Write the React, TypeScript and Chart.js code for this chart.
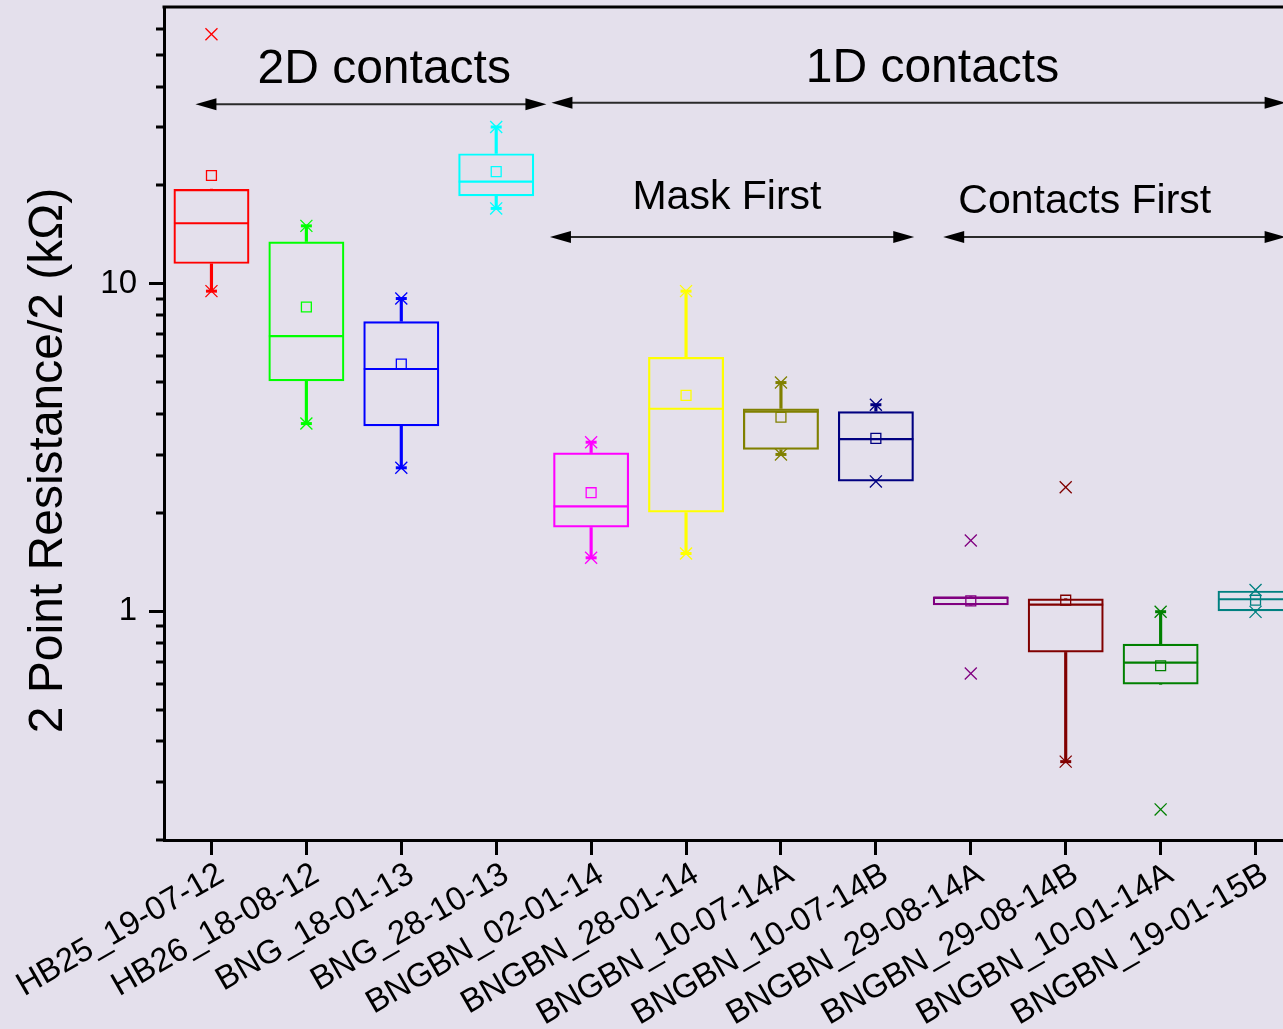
import React, { useEffect, useRef } from 'react';
import { Chart, registerables } from 'chart.js';

Chart.register(...registerables);

// ---------- data ----------
const categories = [
  'HB25_19-07-12',
  'HB26_18-08-12',
  'BNG_18-01-13',
  'BNG_28-10-13',
  'BNGBN_02-01-14',
  'BNGBN_28-01-14',
  'BNGBN_10-07-14A',
  'BNGBN_10-07-14B',
  'BNGBN_29-08-14A',
  'BNGBN_29-08-14B',
  'BNGBN_10-01-14A',
  'BNGBN_19-01-15B',
];

const q1 = [11.5, 5.04, 3.67, 18.5, 1.8, 2.0, 3.11, 2.49, 1.042, 0.748, 0.597, 1.0];
const median = [15.3, 6.92, 5.49, 20.5, 2.09, 4.15, 4.07, 3.35, 1.1, 1.047, 0.696, 1.087];
const q3 = [19.45, 13.46, 7.68, 25.0, 3.05, 5.97, 4.16, 4.08, 1.107, 1.092, 0.795, 1.155];
const mean = [21.4, 8.49, 5.68, 22.0, 2.3, 4.56, 3.91, 3.37, 1.075, 1.08, 0.681, 1.08];
const whiskerLow = [9.49, 3.74, 2.74, 16.98, 1.455, 1.5, 3.01, 2.49, 1.042, 0.347, 0.597, 1.0];
const whiskerHigh = [19.45, 15.02, 9.01, 30.1, 3.28, 9.49, 4.99, 4.27, 1.107, 1.092, 0.996, 1.155];
const markHigh = [57.8, 15.02, 9.01, 30.1, 3.28, 9.49, 4.99, 4.27, 1.643, 2.39, 0.996, 1.16];
const markLow = [9.49, 3.74, 2.74, 16.98, 1.455, 1.5, 3.01, 2.49, 0.645, 0.347, 0.248, 0.995];

const boxColors = [
  '#FF0000', '#00FF00', '#0000FF', '#00FFFF', '#FF00FF', '#FFFF00',
  '#808000', '#000080', '#800080', '#800000', '#008000', '#008080',
];

const yMin = 0.2;
const yMax = 70;
const yMajorTicks = [1, 10];
const yMinorTicks = [0.2, 0.3, 0.4, 0.5, 0.6, 0.7, 0.8, 0.9, 2, 3, 4, 5, 6, 7, 8, 9, 20, 30, 40, 50, 60];

const yTitle = '2 Point Resistance/2 (k\u03A9)';

// group annotations (x in category units, y in data units)
const groupLabels = ['2D contacts', '1D contacts', 'Mask First', 'Contacts First'];
const groupLabelX = [1.82, 7.596, 5.431, 9.201];
const groupLabelY = [41, 41.3, 16.9, 16.4];
const groupLabelSize = [48, 48, 41, 41];
const arrowFrom = [-0.169, 3.582, 3.566, 7.709];
const arrowTo = [3.529, 11.317, 7.404, 11.317];
const arrowY = [35.3, 35.7, 13.9, 13.9];

// ---------- styles ----------
const BG = '#E4E0EC';
const FONT = "'Liberation Sans', Arial, sans-serif";

const annotationPlugin = {
  id: 'boxAnnotations',
  beforeDraw(chart: any) {
    const { ctx, width, height } = chart;
    ctx.save();
    ctx.fillStyle = BG;
    ctx.fillRect(0, 0, width, height);
    ctx.restore();
  },
  afterDraw(chart: any) {
    const { ctx, chartArea } = chart;
    const xs = chart.scales.x;
    const ys = chart.scales.y;
    ctx.save();
    // frame top + right
    ctx.strokeStyle = '#000';
    ctx.lineWidth = 3;
    ctx.beginPath();
    ctx.moveTo(chartArea.left - 1.5, chartArea.top);
    ctx.lineTo(chartArea.right, chartArea.top);
    ctx.lineTo(chartArea.right, chartArea.bottom);
    ctx.stroke();
    // minor ticks
    ctx.lineWidth = 3;
    for (const v of yMinorTicks) {
      const y = Math.round(ys.getPixelForValue(v));
      ctx.beginPath();
      ctx.moveTo(chartArea.left - 8, y);
      ctx.lineTo(chartArea.left, y);
      ctx.stroke();
    }
    // arrows
    const headLen = 21;
    const headHalf = 6;
    for (let i = 0; i < arrowFrom.length; i++) {
      const x1 = xs.getPixelForValue(arrowFrom[i]);
      const x2 = xs.getPixelForValue(arrowTo[i]);
      const y = ys.getPixelForValue(arrowY[i]);
      ctx.strokeStyle = '#2a2a2a';
      ctx.lineWidth = 2;
      ctx.beginPath();
      ctx.moveTo(x1 + headLen - 2, y);
      ctx.lineTo(x2 - headLen + 2, y);
      ctx.stroke();
      ctx.fillStyle = '#000';
      ctx.beginPath();
      ctx.moveTo(x1, y);
      ctx.lineTo(x1 + headLen, y - headHalf);
      ctx.lineTo(x1 + headLen, y + headHalf);
      ctx.closePath();
      ctx.fill();
      ctx.beginPath();
      ctx.moveTo(x2, y);
      ctx.lineTo(x2 - headLen, y - headHalf);
      ctx.lineTo(x2 - headLen, y + headHalf);
      ctx.closePath();
      ctx.fill();
    }
    // group labels
    ctx.fillStyle = '#000';
    ctx.textAlign = 'center';
    ctx.textBaseline = 'alphabetic';
    for (let i = 0; i < groupLabels.length; i++) {
      ctx.font = `${groupLabelSize[i]}px ${FONT}`;
      ctx.fillText(groupLabels[i], xs.getPixelForValue(groupLabelX[i]), ys.getPixelForValue(groupLabelY[i]));
    }
    // y title
    ctx.font = `48px ${FONT}`;
    ctx.translate(62, (chartArea.top + chartArea.bottom) / 2 + 37);
    ctx.rotate(-Math.PI / 2);
    ctx.textAlign = 'center';
    ctx.textBaseline = 'alphabetic';
    ctx.fillText(yTitle, 0, 0);
    ctx.restore();
  },
};

export default function App() {
  const canvasRef = useRef<HTMLCanvasElement | null>(null);

  useEffect(() => {
    if (!canvasRef.current) return;
    const capLow = whiskerLow.map((v, i) => (v < q1[i] ? v : null));
    const capHigh = whiskerHigh.map((v, i) => (v > q3[i] ? v : null));
    const transparent = 'rgba(0,0,0,0)';

    const pointSet = (data: any[], style: string, radius: number, bw: number) => ({
      type: 'line',
      data,
      showLine: false,
      pointStyle: style,
      pointRadius: radius,
      pointHoverRadius: radius,
      pointBorderWidth: bw,
      pointBorderColor: boxColors,
      pointBackgroundColor: transparent,
      borderColor: boxColors,
      backgroundColor: transparent,
      clip: false,
    });

    const chart = new Chart(canvasRef.current, {
      type: 'bar',
      data: {
        labels: categories,
        datasets: [
          pointSet(markHigh, 'crossRot', 8.5, 1.3),
          pointSet(markLow, 'crossRot', 8.5, 1.3),
          pointSet(mean, 'rect', 7, 1.3),
          pointSet(median, 'line', 37.5, 2.2),
          pointSet(capLow, 'line', 5.5, 3),
          pointSet(capHigh, 'line', 5.5, 3),
          {
            type: 'bar',
            data: categories.map((_, i) => [q1[i], q3[i]]),
            backgroundColor: transparent,
            borderColor: boxColors,
            borderWidth: 2.2,
            borderSkipped: false,
            barPercentage: 0.8,
            categoryPercentage: 1,
            grouped: false,
          },
          {
            type: 'bar',
            data: categories.map((_, i) => [whiskerLow[i], q1[i]]),
            backgroundColor: boxColors,
            borderWidth: 0,
            barThickness: 2.5,
            grouped: false,
          },
          {
            type: 'bar',
            data: categories.map((_, i) => [q3[i], whiskerHigh[i]]),
            backgroundColor: boxColors,
            borderWidth: 0,
            barThickness: 2.5,
            grouped: false,
          },
        ] as any,
      },
      options: {
        responsive: false,
        animation: false,
        devicePixelRatio: 1,
        events: [],
        layout: { autoPadding: false, padding: { top: 7, right: 3, left: 0, bottom: 0 } },
        plugins: {
          legend: { display: false },
          tooltip: { enabled: false },
          title: { display: false },
        },
        scales: {
          x: {
            type: 'category',
            offset: true,
            grid: {
              display: true,
              offset: false,
              drawOnChartArea: false,
              drawTicks: true,
              tickLength: 15,
              lineWidth: 3,
              color: '#000',
            },
            border: { display: true, width: 3, color: '#000' },
            ticks: {
              autoSkip: false,
              minRotation: 30,
              maxRotation: 30,
              padding: 0,
              labelOffset: 10,
              color: '#000',
              font: { family: FONT, size: 33 },
            },
            afterFit: (s: any) => {
              s.height = 189;
              s.paddingLeft = 0;
              s.paddingRight = 0;
            },
          },
          y: {
            type: 'logarithmic',
            min: yMin,
            max: yMax,
            afterBuildTicks: (s: any) => {
              s.ticks = yMajorTicks.map((v) => ({ value: v }));
            },
            grid: {
              display: true,
              drawOnChartArea: false,
              drawTicks: true,
              tickLength: 15,
              lineWidth: 3,
              color: '#000',
            },
            border: { display: true, width: 3, color: '#000' },
            ticks: {
              padding: 12,
              color: '#000',
              font: { family: FONT, size: 33 },
              callback: (v: any) => String(v),
            },
            afterFit: (s: any) => {
              s.width = 164;
              s.paddingTop = 0;
              s.paddingBottom = 0;
            },
          },
        },
      } as any,
      plugins: [annotationPlugin],
    });
    return () => chart.destroy();
  }, []);

  return (
    <div
      style={{
        position: 'fixed',
        left: 0,
        top: 0,
        width: 1283,
        height: 1029,
        overflow: 'hidden',
        background: BG,
      }}
    >
      <canvas
        ref={canvasRef}
        width={1306}
        height={1029}
        style={{ display: 'block', width: 1306, height: 1029 }}
      />
    </div>
  );
}
